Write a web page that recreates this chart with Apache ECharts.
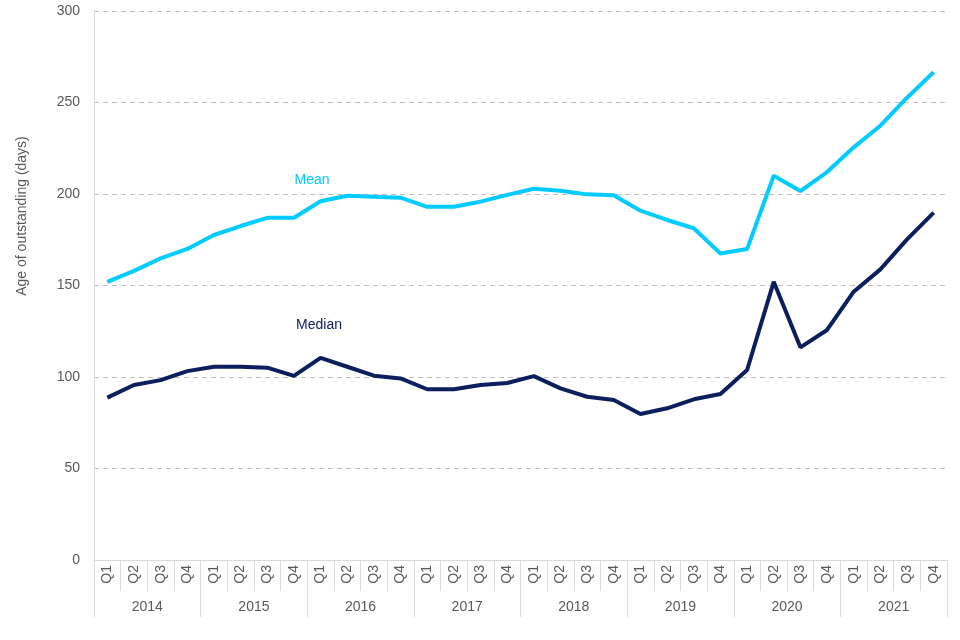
<!DOCTYPE html>
<html>
<head>
<meta charset="utf-8">
<script src="https://cdn.jsdelivr.net/npm/echarts@6/dist/echarts.min.js"></script>
<style>html,body{margin:0;padding:0;background:#fff}#c{width:960px;height:640px}</style>
</head>
<body>
<div id="c"></div>
<script>
const years = ['2014','2015','2016','2017','2018','2019','2020','2021'];
const quarters = ['Q1','Q2','Q3','Q4'];
const meanValues = [152, 158, 164.8, 170, 177.6, 182.5, 187, 187, 196, 199, 198.5, 198, 193, 193, 195.8, 199.5,
  202.9, 201.8, 199.8, 199.3, 190.9, 185.8, 181.3, 167.5, 169.9, 210, 201.6, 212, 225.5, 237.3, 252.6, 266.6];
const medianValues = [88.7, 95.6, 98.3, 103.2, 105.6, 105.6, 105.1, 100.6, 110.5, 105.6, 100.7, 99.2, 93.3, 93.3, 95.6, 96.7,
  100.5, 93.8, 89.2, 87.4, 79.8, 82.9, 87.8, 90.7, 103.8, 152, 116.2, 125.7, 146.6, 158.8, 175.2, 189.8];
const yTicks = [0, 50, 100, 150, 200, 250, 300];

const qCats = [];
years.forEach(y => quarters.forEach(q => qCats.push(y + ' ' + q)));

const chart = echarts.init(document.getElementById('c'), null, {renderer: 'canvas'});
const font = 'Liberation Sans, Arial, sans-serif';
chart.setOption({
  animation: false,
  grid: {left: 94, right: 13, top: 11, bottom: 80},
  xAxis: [{
    type: 'category',
    data: qCats,
    boundaryGap: true,
    axisLine: {show: true, lineStyle: {color: '#d9d9d9', width: 1}},
    axisTick: {show: true, interval: 0, length: 31, lineStyle: {color: '#d9d9d9'}},
    axisLabel: {interval: 0, rotate: 90, margin: 5, color: '#595959', fontSize: 14, fontFamily: font,
      formatter: v => v.split(' ')[1]},
    splitLine: {show: false}
  }, {
    type: 'category',
    data: years,
    position: 'bottom',
    boundaryGap: true,
    axisLine: {show: false},
    axisTick: {show: true, interval: 0, length: 57, lineStyle: {color: '#d9d9d9'}},
    axisLabel: {interval: 0, margin: 40, color: '#595959', fontSize: 14, fontFamily: font},
    splitLine: {show: false}
  }],
  yAxis: {
    type: 'value',
    min: yTicks[0], max: yTicks[yTicks.length - 1], interval: 50,
    axisLine: {show: true, lineStyle: {color: '#d9d9d9'}},
    axisTick: {show: false},
    axisLabel: {color: '#595959', fontSize: 14, fontFamily: font, margin: 14},
    splitLine: {show: true, lineStyle: {color: '#bfbfbf', type: [5, 4], width: 1}}
  },
  series: [{
    name: 'Mean', type: 'line', data: meanValues, xAxisIndex: 0,
    symbol: 'none', lineStyle: {color: '#00ccff', width: 4}, itemStyle: {color: '#00ccff'}
  }, {
    name: 'Median', type: 'line', data: medianValues, xAxisIndex: 0,
    symbol: 'none', lineStyle: {color: '#0a1f5c', width: 4}, itemStyle: {color: '#0a1f5c'}
  }],
  graphic: [{
    type: 'text', x: 22, y: 216, rotation: Math.PI / 2,
    style: {text: 'Age of outstanding (days)', fill: '#595959', font: '14px ' + font, align: 'center', verticalAlign: 'middle'}
  }, {
    type: 'text', x: 312, y: 180,
    style: {text: 'Mean', fill: '#00ccff', font: '14px ' + font, align: 'center', verticalAlign: 'middle'}
  }, {
    type: 'text', x: 319, y: 325,
    style: {text: 'Median', fill: '#0a1f5c', font: '14px ' + font, align: 'center', verticalAlign: 'middle'}
  }]
});
</script>
</body>
</html>
